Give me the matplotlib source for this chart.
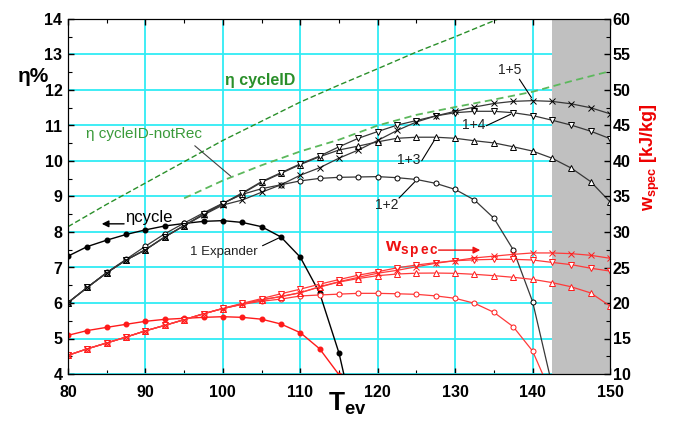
import numpy as np
import matplotlib
matplotlib.use('Agg')
import matplotlib.pyplot as plt
from matplotlib.ticker import MultipleLocator

plt.rcParams['font.family'] = ['Liberation Sans', 'DejaVu Sans']
plt.rcParams['mathtext.fontset'] = 'custom'
plt.rcParams['mathtext.rm'] = 'Liberation Sans'
plt.rcParams['mathtext.bf'] = 'Liberation Sans:bold'
plt.rcParams['mathtext.it'] = 'Liberation Sans:italic'

nan = np.nan

# ---------------- data ----------------
T = [80, 82.5, 85, 87.5, 90, 92.5, 95, 97.5, 100, 102.5, 105, 107.5, 110, 112.5,
     115, 117.5, 120, 122.5, 125, 127.5, 130, 132.5, 135, 137.5, 140, 142.5,
     145, 147.5, 150]

# efficiency (%) - left axis
eta_1exp = [7.32, 7.59, 7.77, 7.93, 8.06, 8.17, 8.24, 8.30, 8.32, 8.27, 8.15, 7.86,
            7.29, 6.28, 4.59, 2.2, nan, nan, nan, nan, nan, nan, nan, nan, nan,
            nan, nan, nan, nan]
eta_12 = [6.01, 6.44, 6.86, 7.23, 7.60, 7.95, 8.25, 8.54, 8.81, 9.06, 9.22, 9.33,
          9.44, 9.51, 9.54, 9.55, 9.56, 9.53, 9.48, 9.37, 9.20, 8.90, 8.39, 7.50,
          6.04, 3.7, nan, nan, nan]
eta_13 = [6.01, 6.44, 6.85, 7.21, 7.50, 7.86, 8.18, 8.50, 8.80, 9.08, 9.40, 9.65,
          9.90, 10.12, 10.31, 10.42, 10.54, 10.64, 10.67, 10.67, 10.64, 10.57,
          10.51, 10.40, 10.28, 10.08, 9.80, 9.42, 8.85]
eta_14 = [6.01, 6.44, 6.85, 7.21, 7.50, 7.86, 8.18, 8.50, 8.80, 9.10, 9.42, 9.67,
          9.92, 10.14, 10.40, 10.64, 10.83, 11.01, 11.14, 11.27, 11.36, 11.40,
          11.40, 11.36, 11.28, 11.15, 11.01, 10.84, 10.63]
eta_15 = [6.01, 6.44, 6.85, 7.21, 7.50, 7.86, 8.18, 8.48, 8.76, 8.90, 9.12, 9.33,
          9.60, 9.81, 10.08, 10.31, 10.58, 10.86, 11.10, 11.27, 11.40, 11.52,
          11.62, 11.68, 11.70, 11.68, 11.61, 11.50, 11.33]

T_ideal = [80, 85, 90, 95, 100, 105, 110, 115, 120, 125, 130, 135, 140, 145, 150]
eta_cycleID = [8.15, 8.78, 9.38, 9.98, 10.58, 11.12, 11.66, 12.14, 12.6, 13.07,
               13.5, 13.95, 14.4, nan, nan]
eta_cycleID_notRec = [nan, nan, nan, 8.95, 9.45, 9.88, 10.27, 10.6, 11.0, 11.3,
                      11.52, 11.73, 11.95, 12.25, 12.53]

# specific work (kJ/kg) - right axis
w_1exp = [15.45, 16.12, 16.57, 17.0, 17.42, 17.7, 17.84, 17.98, 18.07, 17.98,
          17.72, 17.04, 15.82, 13.55, 9.9, 5.0, nan, nan, nan, nan, nan, nan,
          nan, nan, nan, nan, nan, nan, nan]
w_12 = [12.63, 13.55, 14.37, 15.2, 16.08, 16.85, 17.65, 18.48, 19.22, 19.8, 20.25,
        20.55, 20.99, 21.13, 21.25, 21.36, 21.36, 21.3, 21.22, 21.0, 20.66, 19.96,
        18.69, 16.66, 13.24, 7.0, nan, nan, nan]
w_13 = [12.63, 13.55, 14.37, 15.2, 16.08, 16.85, 17.65, 18.48, 19.22, 19.85, 20.45,
        20.9, 21.45, 22.25, 22.95, 23.45, 23.85, 24.08, 24.2, 24.22, 24.18, 24.04,
        23.85, 23.62, 23.33, 22.88, 22.28, 21.42, 19.58]
w_14 = [12.63, 13.55, 14.37, 15.2, 16.08, 16.85, 17.65, 18.48, 19.25, 19.95, 20.62,
        21.3, 21.95, 22.65, 23.3, 23.92, 24.41, 24.95, 25.35, 25.68, 25.96, 26.08,
        26.15, 26.15, 26.06, 25.72, 25.4, 24.9, 24.5]
w_15 = [12.63, 13.55, 14.37, 15.2, 16.08, 16.85, 17.65, 18.48, 19.22, 19.85, 20.45,
        20.92, 21.45, 22.3, 23.0, 23.62, 24.2, 24.6, 25.1, 25.6, 25.96, 26.35, 26.6,
        26.85, 27.05, 27.05, 26.95, 26.72, 26.3]

T_limit = 142.5

# ---------------- figure ----------------
fig = plt.figure(figsize=(6.73, 4.21), dpi=100)
ax = fig.add_axes([68/673, 47/421, 542/673, 355/421])
ax2 = ax.twinx()

ax.set_xlim(80, 150)
ax.set_ylim(4, 14)
ax2.set_ylim(10, 60)

ax.set_axisbelow(True)
ax.grid(True, which='major', color='#30ecf4', lw=1.3)
ax.axvspan(T_limit, 150, color='#c0c0c0', zorder=1, lw=0)

ax.xaxis.set_major_locator(MultipleLocator(10))
ax.xaxis.set_minor_locator(MultipleLocator(5))
ax.yaxis.set_major_locator(MultipleLocator(1))
ax.yaxis.set_minor_locator(MultipleLocator(0.5))
ax2.yaxis.set_major_locator(MultipleLocator(5))
ax2.yaxis.set_minor_locator(MultipleLocator(2.5))

ax.tick_params(which='both', direction='in', top=True, right=False, labelsize=11.5)
ax.tick_params(which='major', length=4, width=1)
ax.tick_params(which='minor', length=3, width=0.8)
ax.tick_params(axis='x', pad=8)
ax.tick_params(axis='y', pad=4)
ax2.tick_params(which='both', direction='in', labelsize=11.5, pad=2)
ax2.tick_params(which='major', length=4, width=1)
ax2.tick_params(which='minor', length=3, width=0.8)
for lab in ax.get_xticklabels() + ax.get_yticklabels() + ax2.get_yticklabels():
    lab.set_fontweight('bold')

# black efficiency curves
ax.plot(T, eta_1exp, color='black', lw=1, marker='o', ms=3.3, mfc='black', mec='black', zorder=4)
gray = '#383838'
ax.plot(T, eta_12, color=gray, lw=0.9, marker='o', ms=3.6, mfc='white', mec='black', mew=0.7, zorder=4)
ax.plot(T, eta_13, color=gray, lw=0.9, marker='^', ms=4.2, mfc='white', mec='black', mew=0.7, zorder=4)
ax.plot(T, eta_14, color=gray, lw=0.9, marker='v', ms=4.2, mfc='white', mec='black', mew=0.7, zorder=4)
ax.plot(T, eta_15, color=gray, lw=0.9, marker='x', ms=3.8, mec='black', mew=0.7, zorder=4)

# green ideal curves
ax.plot(T_ideal, eta_cycleID, color='#2a8f2a', lw=1, ls=(0, (4, 2)), zorder=3)
ax.plot(T_ideal, eta_cycleID_notRec, color='#5cb85c', lw=1.3, ls=(0, (4, 2.5)), zorder=3)

# red specific work curves
red = '#ff1a1a'
red2 = '#ff3a3a'
ax2.plot(T, w_1exp, color=red, lw=1, marker='o', ms=3.3, mfc=red, mec=red)
ax2.plot(T, w_12, color=red2, lw=0.9, marker='o', ms=3.6, mfc='white', mec=red, mew=0.7)
ax2.plot(T, w_13, color=red2, lw=0.9, marker='^', ms=4.2, mfc='white', mec=red, mew=0.7)
ax2.plot(T, w_14, color=red2, lw=0.9, marker='v', ms=4.2, mfc='white', mec=red, mew=0.7)
ax2.plot(T, w_15, color=red2, lw=0.9, marker='x', ms=3.8, mec=red, mew=0.7)

# ---------------- labels & annotations ----------------
fig.text(33/673, 1 - 77/421, 'η%', fontsize=15, fontweight='bold', ha='center', va='center')
fig.text(328/673, 1 - 404/421, r'$\mathbf{T}_{\mathbf{ev}}$', fontsize=19, ha='left', va='center')
fig.text(650/673, 1 - 157/421, r'$\mathbf{w}_{\mathbf{spec}}$' + ' [kJ/kg]', fontsize=13,
         color='#ee0000', fontweight='bold', rotation=90, ha='center', va='center')

ax.text(100.3, 12.28, 'η cycleID', color='#2a8f2a', fontsize=11.5, fontweight='bold',
        ha='left', va='center', zorder=6)
ax.text(82.3, 10.76, 'η cycleID-notRec', color='#3a9a3a', fontsize=11,
        ha='left', va='center', zorder=6)
ax.annotate('', xy=(101.3, 9.52), xytext=(96.1, 10.48),
            arrowprops=dict(arrowstyle='-', color='#404040', lw=0.8))

ax.text(87.4, 8.42, 'ηcycle', color='black', fontsize=12, ha='left', va='center', zorder=6)
ax.annotate('', xy=(84.0, 8.23), xytext=(87.6, 8.23),
            arrowprops=dict(arrowstyle='-|>', color='black', lw=1, mutation_scale=10))

ax.text(95.8, 7.44, '1 Expander', color='#222222', fontsize=9.5, ha='left', va='center', zorder=6)
ax.annotate('', xy=(107.5, 7.86), xytext=(104.8, 7.58),
            arrowprops=dict(arrowstyle='-', color='black', lw=0.8))

for txt, tx, ty in [('1+2', 119.65, 8.76),
                    ('1+3', 122.5, 10.03),
                    ('1+4', 130.9, 11.01),
                    ('1+5', 135.5, 12.56)]:
    ax.text(tx, ty, txt, color='#222222', fontsize=10, ha='left', va='center', zorder=6)

ax.annotate('', xy=(125.0, 9.46), xytext=(122.5, 8.90),
            arrowprops=dict(arrowstyle='-', color='black', lw=0.8))
ax.annotate('', xy=(127.5, 10.65), xytext=(125.5, 9.94),
            arrowprops=dict(arrowstyle='-', color='black', lw=0.8))
ax.annotate('', xy=(137.5, 11.35), xytext=(133.7, 10.96),
            arrowprops=dict(arrowstyle='-', color='black', lw=0.8))
ax.annotate('', xy=(140.05, 11.72), xytext=(138.1, 12.37),
            arrowprops=dict(arrowstyle='-', color='black', lw=0.8))

ax.text(120.9, 7.49, r'$\mathbf{w}_{\mathbf{s\,p\,e\,c}}$', color='#ee1111', fontsize=14,
        ha='left', va='center', zorder=6)
ax.annotate('', xy=(133.6, 7.49), xytext=(127.5, 7.49),
            arrowprops=dict(arrowstyle='-|>', color='#ee1111', lw=1, mutation_scale=10))

fig.savefig('out.png', dpi=100)
